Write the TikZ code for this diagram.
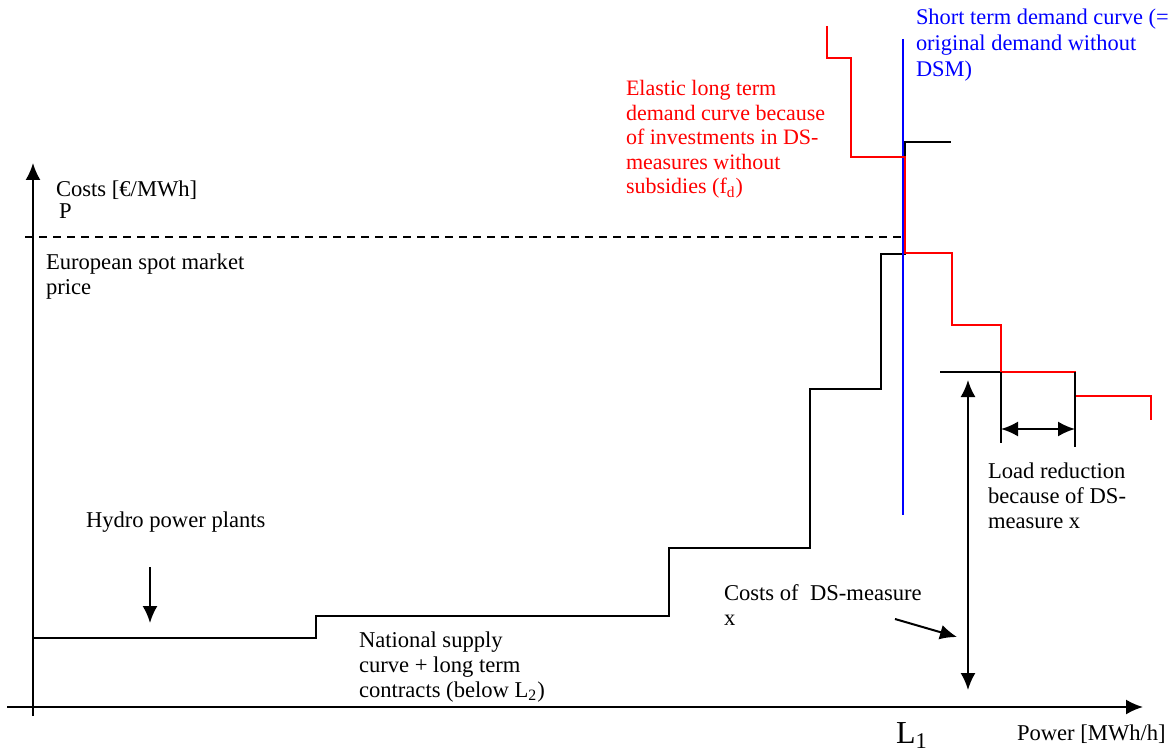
\documentclass[tikz,border=0pt]{standalone}
\usepackage{fontspec}
\setmainfont{Liberation Serif}
\usetikzlibrary{arrows.meta}

\begin{document}
\begin{tikzpicture}[x=0.5pt,y=-0.5pt,line width=1pt,
  every node/.style={inner sep=0pt,align=left,anchor=base west,
    font=\fontsize{11.3}{12.4}\selectfont},
  tip/.style={-{Latex[length=8.5pt,width=7.5pt]}},
  twotip/.style={{Latex[length=8.5pt,width=7.5pt]}-{Latex[length=8.5pt,width=7.5pt]}}]
\useasboundingbox (0,0) rectangle (1176,753);
% axes
\coordinate (ybot) at (33,716);
\coordinate (ytop) at (33,163);
\coordinate (xleft) at (7,707);
\coordinate (xright) at (1143,707);
\draw[tip] (ybot) -- (ytop);
\draw[tip] (xleft) -- (xright);
% spot market price
\coordinate (pleft) at (25,237);
\coordinate (pright) at (903,237);
\draw[dash pattern=on 4pt off 3pt] (pleft) -- (pright);
% supply curve
\draw (33,638) -- (316,638) -- (316,616) -- (669,616) -- (669,548)
  -- (810,548) -- (810,389) -- (881,389) -- (881,254) -- (905,254)
  -- (905,142) -- (951,142);
\draw (940,372) -- (1001,372);
% short term demand
\draw[blue] (903,39) -- (903,515);
% long term demand
\draw[red] (827,26) -- (827,58) -- (851,58) -- (851,157) -- (905,157)
  -- (905,253) -- (952,253) -- (952,325) -- (1001,325) -- (1001,372)
  -- (1075,372) -- (1075,396) -- (1151,396) -- (1151,420);
% load reduction
\coordinate (lra) at (1001,372);
\coordinate (lrb) at (1001,443);
\coordinate (lrc) at (1075,372);
\coordinate (lrd) at (1075,447);
\draw (lra) -- (lrb);
\draw (lrc) -- (lrd);
\coordinate (lrl) at (1001,429);
\coordinate (lrr) at (1075,429);
\draw[twotip] (lrl) -- (lrr);
% costs of measure
\coordinate (ctop) at (968,380);
\coordinate (cbot) at (968,690);
\draw[twotip] (ctop) -- (cbot);
\coordinate (cfrom) at (895,619);
\coordinate (cto) at (957,637);
\draw[tip] (cfrom) -- (cto);
% hydro
\coordinate (hfrom) at (150,567);
\coordinate (hto) at (150,623);
\draw[tip] (hfrom) -- (hto);
% labels (base = last line)
\node (costs) at (55,197) {Costs [€/MWh]};
\node (p) at (58,219) {P};
\node (spot) at (45,294) {European spot market\\price};
\node (hydro) at (85,527) {Hydro power plants};
\node (supply) at (358,697) {National supply\\curve + long term\\contracts (below L\textsubscript{2})};
\node (measure) at (723,625) {Costs of\ \ DS-measure\\x};
\node (lone) at (895,743) {\fontsize{16}{18}\selectfont L\textsubscript{1}};
\node (power) at (1016,740) {Power [MWh/h]};
\node (reduction) at (987,528) {Load reduction\\because of DS-\\measure x};
\node[red,font=\fontsize{11}{12.3}\selectfont] (elastic) at (625,194) {Elastic long term\\demand curve because\\of investments in DS-\\measures without\\subsidies (f\textsubscript{d})};
\node[blue,font=\fontsize{11.2}{13.2}\selectfont] (short) at (915,77) {Short term demand curve (=\\original demand without\\DSM)};
\end{tikzpicture}
\end{document}
